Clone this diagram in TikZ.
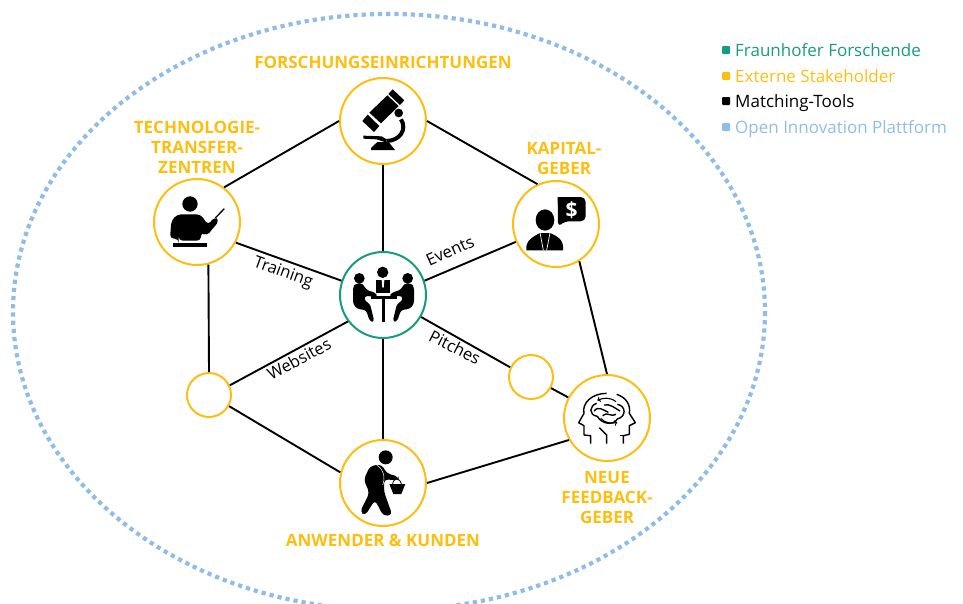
\documentclass[tikz,border=0pt]{standalone}
\usepackage{fontspec}
\setmainfont{Open Sans}
\usepackage{xcolor}
\definecolor{extern}{HTML}{FDBE10}
\definecolor{fraunhofer}{HTML}{179C7D}
\definecolor{plattform}{HTML}{8FBDE8}
\tikzset{
    partner/.style={circle, draw=extern, fill=white, line width=2pt, minimum size=86pt, inner sep=0pt},
    hubnode/.style={partner, draw=fraunhofer},
    freenode/.style={partner, minimum size=44pt},
    link/.style={black, line width=1.9pt},
    grouptext/.style={text=extern, align=center, font=\fontsize{17}{20}\selectfont\bfseries},
    tooltext/.style={font=\fontsize{16.5}{18}\selectfont},
    keytext/.style={anchor=west, inner sep=0pt, text height=12.5pt, text depth=0pt, font=\fontsize{17}{20}\selectfont},
    keybox/.style={minimum size=8pt, inner sep=0pt, rounded corners=1pt},
}
\begin{document}
\begin{tikzpicture}[x=1pt, y=-1pt]
    \clip (0, 0) rectangle (963, 603);
    \draw[plattform, line width=4.2pt, dash pattern=on 4.2pt off 4pt] (389, 312) ellipse (376 and 298);

    \node[partner] (forschung) at (383, 121) {};
    \node[partner] (transfer) at (197, 222) {};
    \node[partner] (kapital) at (556, 224) {};
    \node[hubnode] (matching) at (383, 295) {};
    \node[freenode] (websitenode) at (209, 395) {};
    \node[freenode] (pitchnode) at (531, 377) {};
    \node[partner] (feedback) at (607, 418) {};
    \node[partner] (anwender) at (383, 483) {};

    \draw[link] (transfer.52) -- (forschung.180);
    \draw[link] (forschung.0) -- (kapital.115);
    \draw[link] (forschung.270) -- (matching.90);
    \draw[link] (matching.19) -- (kapital.204);
    \draw[link] (matching.161) -- (transfer.-28);
    \draw[link] (matching.217) -- (websitenode.25);
    \draw[link] (matching.-30) -- (pitchnode.155);
    \draw[link] (pitchnode.-29) -- (feedback.152);
    \draw[link] (kapital.-58) -- (feedback.90);
    \draw[link] (feedback.210) -- (anwender.0);
    \draw[link] (matching.270) -- (anwender.90);
    \draw[link] (transfer.-75) -- (websitenode.90);
    \draw[link] (websitenode.-29) -- (anwender.166);

    \node[grouptext] (forschunglabel) at (383, 62) {FORSCHUNGSEINRICHTUNGEN};
    \node[grouptext] (transferlabel) at (197, 147) {TECHNOLOGIE-\\TRANSFER-\\ZENTREN};
    \node[grouptext] (kapitallabel) at (564, 158) {KAPITAL-\\GEBER};
    \node[grouptext] (feedbacklabel) at (607, 498) {NEUE\\FEEDBACK-\\GEBER};
    \node[grouptext] (anwenderlabel) at (383, 540) {ANWENDER \& KUNDEN};

    \node[tooltext, rotate=-20] (training) at (283, 273) {Training};
    \node[tooltext, rotate=24] (events) at (450, 251) {Events};
    \node[tooltext, rotate=28] (websites) at (299, 359) {Websites};
    \node[tooltext, rotate=-27] (pitches) at (455, 347) {Pitches};

    \node[keybox, fill=fraunhofer] (keygreen) at (726, 50) {};
    \node[keybox, fill=extern] (keyyellow) at (726, 76) {};
    \node[keybox, fill=black] (keyblack) at (726, 101) {};
    \node[keybox, fill=plattform] (keyblue) at (726, 127) {};
    \node[keytext, text=fraunhofer] (keygreentext) at (735, 50) {Fraunhofer Forschende};
    \node[keytext, text=extern] (keyyellowtext) at (735, 76) {Externe Stakeholder};
    \node[keytext, text=black] (keyblacktext) at (735, 101) {Matching-Tools};
    \node[keytext, text=plattform] (keybluetext) at (735, 127) {Open Innovation Plattform};

    \begin{scope}[shift={(320, 70)}, scale=1/3]
        \fill (218, 58) -- (253, 91) -- (240, 105) -- (205, 72) -- cycle;
        \fill (202, 76) -- (236, 108) -- (183, 160) -- (148, 128) -- cycle;
        \fill (143, 134) -- (178, 168) -- (162, 186) -- (127, 153) -- cycle;
        \fill (236, 129) circle (13);
        \draw[line width=4pt] (243, 148) .. controls (262, 178) and (240, 212) .. (200, 213);
        \fill (130, 197) -- (185, 199) -- (200, 208) -- (200, 218) -- (170, 208) -- (130, 206) -- cycle;
        \fill (172, 216) -- (206, 216) -- (225, 240) -- (153, 240) -- (153, 234) -- cycle;
        \fill (675, 450) ellipse (28 and 32);
        \fill (619, 541) .. controls (616, 510) and (640, 500) .. (660, 489) -- (690, 489) .. controls (715, 500) and (732, 510) .. (729, 541) -- cycle;
        \draw[white, line width=0.7pt] (660, 488) -- (670, 541);
        \draw[white, line width=0.7pt] (690, 488) -- (680, 541);
        \fill[rounded corners=5pt] (713, 381) -- (797, 381) -- (797, 454) -- (732, 454) -- (714, 472) [sharp corners] -- cycle;
        \node[text=white, font=\fontsize{21}{21}\selectfont\bfseries] (dollar) at (755, 420) {\$};
    \end{scope}

    \begin{scope}[shift={(140, 110)}, scale=1/3]
        \fill (150, 282) circle (23);
        \fill[rounded corners=4pt] (90, 386) -- (94, 332) -- (112, 313) -- (182, 313) -- (204, 345) -- (224, 320) -- (238, 332) -- (200, 378) -- (183, 366) -- (183, 392) -- (116, 392) -- (116, 386) -- cycle;
        \draw[line width=1.3pt] (226, 324) -- (253, 296);
        \fill (98, 398) rectangle (200, 410);
    \end{scope}

    \begin{scope}[shift={(340, 255)}, scale=1/3]
        \fill (58, 70) circle (16);
        \fill (128, 52) circle (17);
        \fill (203, 70) circle (16);
        \fill (107, 75) -- (151, 75) -- (151, 113) -- (107, 113) -- cycle;
        \fill[white] (125, 75) -- (133, 75) -- (131, 98) -- (127, 98) -- cycle;
        \fill (92, 124) rectangle (170, 133);
        \fill (125, 133) rectangle (135, 200);
        \fill[rounded corners=3pt] (39, 95) -- (48, 85) -- (68, 85) -- (78, 104) -- (110, 115) -- (110, 126) -- (74, 122) -- (74, 138) -- (90, 146) -- (103, 200) -- (90, 200) -- (78, 165) -- (52, 162) -- (39, 147) -- cycle;
        \fill[rounded corners=3pt] (222, 95) -- (213, 85) -- (193, 85) -- (183, 104) -- (151, 115) -- (151, 126) -- (187, 122) -- (187, 138) -- (171, 146) -- (158, 200) -- (171, 200) -- (183, 165) -- (209, 162) -- (222, 147) -- cycle;
    \end{scope}

    \begin{scope}[shift={(330, 370)}, scale=1/3]
        \fill (167, 262) circle (21);
        \fill[rounded corners=4pt] (101, 330) -- (120, 288) -- (155, 283) -- (170, 310) -- (206, 320) -- (206, 331) -- (162, 328) -- (162, 365) -- (187, 435) -- (160, 438) -- (135, 390) -- (105, 437) -- (90, 425) -- (118, 370) -- (112, 352) -- cycle;
        \draw[white, line width=0.5pt] (140, 285) .. controls (165, 300) and (165, 330) .. (158, 345);
        \fill (178, 342) -- (226, 342) -- (214, 372) -- (190, 372) -- cycle;
        \draw[line width=0.8pt] (188, 342) .. controls (190, 322) and (210, 322) .. (214, 342);
    \end{scope}

    \begin{scope}[shift={(560, 375)}, scale=1/3, line width=1.4pt, line join=round]
        \draw (92, 206) -- (92, 182) -- (72, 180) -- (72, 152) -- (56, 143) -- (72, 115) .. controls (65, 85) and (95, 55) .. (140, 55);
        \draw (170, 58) .. controls (200, 68) and (212, 90) .. (208, 115) -- (226, 143) -- (208, 152) -- (208, 178) -- (190, 182) -- (190, 206);
        \draw (118, 158) -- (140, 180) -- (140, 206);
        \draw (82, 182) -- (92, 182);
        \draw (180, 182) -- (190, 182);
        \draw (110, 85) .. controls (88, 92) and (85, 120) .. (112, 124) .. controls (125, 148) and (160, 152) .. (172, 132) .. controls (200, 125) and (198, 92) .. (172, 88);
        \draw[->, line width=1.1pt] (168, 80) .. controls (150, 66) and (130, 68) .. (112, 76);
        \draw[->, line width=1.1pt] (122, 130) .. controls (135, 145) and (155, 146) .. (172, 142);
        \draw (102, 108) .. controls (115, 92) and (130, 105) .. (145, 112);
        \draw (132, 90) .. controls (150, 85) and (165, 100) .. (180, 108);
        \draw (128, 122) .. controls (140, 108) and (155, 128) .. (168, 118);
    \end{scope}
\end{tikzpicture}
\end{document}
